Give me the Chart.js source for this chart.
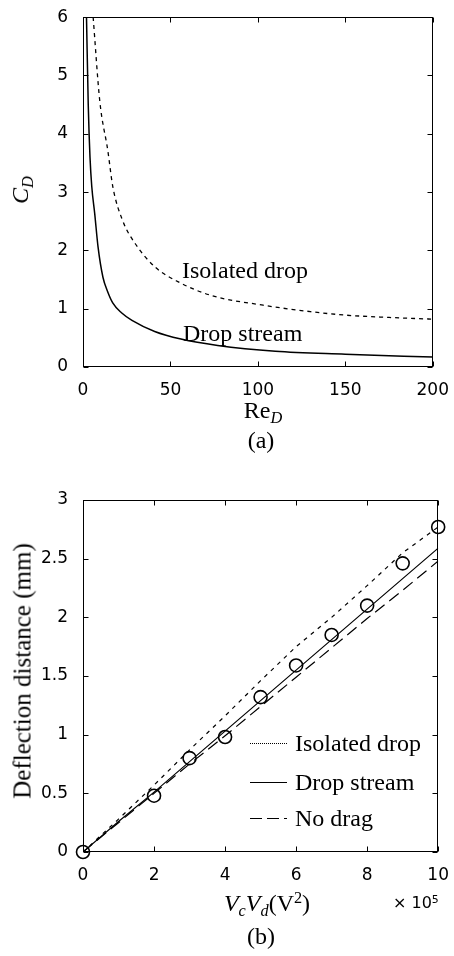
<!DOCTYPE html>
<html lang="en">
<head>
<meta charset="UTF-8">
<title>Drag coefficient and deflection distance</title>
<script src="https://cdn.jsdelivr.net/npm/chart.js"></script>
<style>
  body { margin: 0; background: #fff; width: 454px; height: 956px; position: relative; overflow: hidden; }
  canvas { position: absolute; left: 0; }
  .t { position: absolute; font-family: "Liberation Serif", "Times New Roman", serif; font-size: 24px; color: #000; white-space: nowrap; line-height: 1; }
  .c { transform: translate(-50%, -50%); }
  .l { transform: translate(0, -50%); }
  .r { transform: translate(-50%, -50%) rotate(-90deg); }
  .t sub { font-size: 0.68em; vertical-align: -0.28em; line-height: 0; }
  .t sup { font-size: 0.68em; vertical-align: 0.5em; line-height: 0; }
  .sans { font-family: "DejaVu Sans", Arial, sans-serif; font-size: 16px; }
  .key { position: absolute; left: 250px; width: 37px; height: 0; }
</style>
</head>
<body>
<canvas id="chartA" width="454" height="450" style="top:0"></canvas>
<canvas id="chartB" width="454" height="496" style="top:460px"></canvas>

<div class="t r" style="left:20px; top:190px"><i>C</i><sub><i>D</i></sub></div>
<div class="t c" style="left:263px; top:410px">Re<sub><i>D</i></sub></div>
<div class="t c" style="left:261px; top:440px">(a)</div>
<div class="t l" style="left:182px; top:270px">Isolated drop</div>
<div class="t l" style="left:183px; top:333px">Drop stream</div>

<div class="t r" style="left:22px; top:671px; font-size:25px">Deflection distance (mm)</div>
<div class="t c" style="left:267px; top:903px"><i>V</i><sub><i>c</i></sub><i>V</i><sub><i>d</i></sub>(V<sup>2</sup>)</div>
<div class="t l sans" style="left:393px; top:903px">× 10<sup>5</sup></div>
<div class="t c" style="left:261px; top:936px">(b)</div>

<div class="key" style="top:743px; border-top:1px dotted #000"></div>
<div class="key" style="top:782px; border-top:1px solid #000"></div>
<div class="key" style="top:818px; height:1px; background:repeating-linear-gradient(90deg,#000 0 12px,transparent 12px 17px)"></div>
<div class="t l" style="left:295px; top:743px">Isolated drop</div>
<div class="t l" style="left:295px; top:782px">Drop stream</div>
<div class="t l" style="left:295px; top:818px">No drag</div>

<script>
  // (a) drag coefficient against drop Reynolds number
  const reStream   = [2, 3, 4, 5, 6.7, 8.6, 11.4, 14, 17, 22, 28, 41, 56, 77, 110, 150, 200];
  const cdStream   = [6, 4.5, 3.6, 3.1, 2.63, 2.06, 1.54, 1.3, 1.1, 0.93, 0.8, 0.61, 0.48, 0.37, 0.27, 0.22, 0.17];
  const reIsolated = [5.8, 9.6, 14.2, 17, 22.7, 30, 41.4, 54.5, 73, 103, 130, 150, 175, 200];
  const cdIsolated = [6, 4.56, 3.71, 3.1, 2.51, 2.11, 1.71, 1.46, 1.23, 1.06, 0.95, 0.89, 0.85, 0.82];
  const reTicks = [0, 50, 100, 150, 200];
  const cdTicks = [0, 1, 2, 3, 4, 5, 6];

  // (b) deflection distance against VcVd (x 10^5 V^2)
  const vv          = [0, 1, 2, 3, 4, 5, 6, 7, 8, 9, 10];
  const defIsolated = [0, 0.28, 0.57, 0.87, 1.16, 1.46, 1.75, 2.0, 2.27, 2.55, 2.77];
  const defStream   = [0, 0.26, 0.51, 0.77, 1.03, 1.29, 1.55, 1.81, 2.07, 2.33, 2.59];
  const defNoDrag   = [0, 0.25, 0.5, 0.75, 0.99, 1.24, 1.49, 1.74, 1.99, 2.23, 2.48];
  const vvExp  = [0, 2, 3, 4, 5, 6, 7, 8, 9, 10];
  const defExp = [0, 0.48, 0.8, 0.98, 1.32, 1.59, 1.85, 2.1, 2.46, 2.77];
  const vvTicks  = [0, 2, 4, 6, 8, 10];
  const defTicks = [0, 0.5, 1, 1.5, 2, 2.5, 3];

  const pts = (xs, ys) => xs.map((x, i) => ({ x: x, y: ys[i] }));

  // box round the plot with short inward ticks on all four sides
  const frame = {
    id: 'frame',
    afterDraw(chart) {
      const { ctx, chartArea: a, scales } = chart;
      const L = Math.round(a.left) + 0.5, R = Math.round(a.right) - 0.5;
      const T = Math.round(a.top) + 0.5, B = Math.round(a.bottom) - 0.5;
      ctx.save();
      ctx.strokeStyle = '#000';
      ctx.lineWidth = 1;
      ctx.strokeRect(L, T, R - L, B - T);
      ctx.beginPath();
      scales.x.ticks.forEach(t => {
        const p = Math.round(scales.x.getPixelForValue(t.value)) + 0.5;
        ctx.moveTo(p, B); ctx.lineTo(p, B - 5);
        ctx.moveTo(p, T); ctx.lineTo(p, T + 5);
      });
      scales.y.ticks.forEach(t => {
        const p = Math.round(scales.y.getPixelForValue(t.value)) + 0.5;
        ctx.moveTo(L, p); ctx.lineTo(L + 5, p);
        ctx.moveTo(R, p); ctx.lineTo(R - 5, p);
      });
      ctx.stroke();
      ctx.restore();
    }
  };

  const tickFont = { family: 'DejaVu Sans', size: 17 };

  function axes(xMin, xMax, xTicks, yMin, yMax, yTicks, xHeight) {
    return {
      x: {
        type: 'linear', min: xMin, max: xMax,
        grid: { display: false }, border: { display: false },
        afterBuildTicks: s => { s.ticks = xTicks.map(v => ({ value: v })); },
        afterFit: s => { s.height = xHeight; },
        ticks: { color: '#000', font: tickFont, padding: 5, maxRotation: 0, autoSkip: false, callback: v => String(v) }
      },
      y: {
        type: 'linear', min: yMin, max: yMax,
        grid: { display: false }, border: { display: false },
        afterBuildTicks: s => { s.ticks = yTicks.map(v => ({ value: v })); },
        afterFit: s => { s.width = 83; },
        ticks: { color: '#000', font: tickFont, padding: 7, autoSkip: false, callback: v => String(v) }
      }
    };
  }

  const common = {
    responsive: false,
    animation: false,
    devicePixelRatio: 1,
    plugins: { legend: { display: false }, tooltip: { enabled: false } },
    elements: { point: { radius: 0 } }
  };

  new Chart(document.getElementById('chartA'), {
    type: 'scatter',
    data: {
      datasets: [
        { data: pts(reIsolated, cdIsolated), showLine: true, borderColor: '#000', borderWidth: 1.3,
          borderDash: [4, 4], cubicInterpolationMode: 'monotone' },
        { data: pts(reStream, cdStream), showLine: true, borderColor: '#000', borderWidth: 1.5,
          cubicInterpolationMode: 'monotone' }
      ]
    },
    options: Object.assign({}, common, {
      layout: { padding: { top: 16, right: 15, left: 0, bottom: 0 } },
      scales: axes(0, 200, reTicks, 0, 6, cdTicks, 83)
    }),
    plugins: [frame]
  });

  new Chart(document.getElementById('chartB'), {
    type: 'scatter',
    data: {
      datasets: [
        { data: pts(vv, defIsolated), showLine: true, borderColor: '#000', borderWidth: 1.2, borderDash: [4, 5] },
        { data: pts(vv, defStream), showLine: true, borderColor: '#000', borderWidth: 1.2 },
        { data: pts(vv, defNoDrag), showLine: true, borderColor: '#000', borderWidth: 1.2, borderDash: [12, 6] },
        { data: pts(vvExp, defExp), showLine: false, pointRadius: 6.5, pointBorderWidth: 1.6,
          pointBorderColor: '#000', pointBackgroundColor: 'rgba(0,0,0,0)', clip: false }
      ]
    },
    options: Object.assign({}, common, {
      layout: { padding: { top: 40, right: 15, left: 0, bottom: 0 } },
      scales: axes(0, 10, vvTicks, 0, 3, defTicks, 104)
    }),
    plugins: [frame]
  });
</script>
</body>
</html>
